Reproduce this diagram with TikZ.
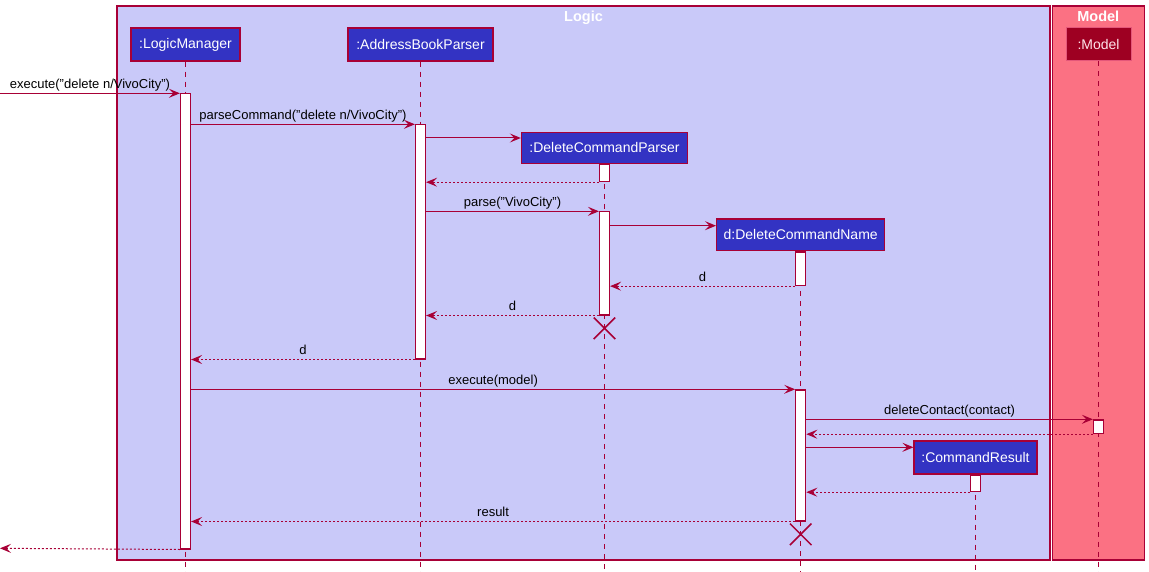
\documentclass[tikz,border=0pt]{standalone}
\usepackage{fontspec}
\setmainfont{Liberation Sans}
\usetikzlibrary{arrows.meta,shapes.misc}
\definecolor{crim}{HTML}{A80036}
\definecolor{logicbg}{HTML}{C9C9F9}
\definecolor{partfill}{HTML}{3333C3}
\definecolor{modelbg}{HTML}{FB7183}
\definecolor{modelpart}{HTML}{9E0022}
\definecolor{modelborder}{HTML}{E4577A}
\definecolor{modeltext}{HTML}{FFE4EA}
\begin{document}
\begin{tikzpicture}[x=1pt,y=-1pt,
  frame/.style={draw=crim, line width=1.2pt, inner sep=0pt},
  grouptitle/.style={text=white, font=\fontsize{14.5}{16}\selectfont\bfseries, inner sep=0pt, anchor=base},
  part/.style={draw=crim, line width=1.4pt, fill=partfill, text=white, inner sep=0pt,
    minimum height=33, font=\fontsize{14}{16}\selectfont},
  life/.style={draw=crim, line width=1pt, dash pattern=on 5pt off 5pt},
  act/.style={draw=crim, line width=1.2pt, fill=white, minimum width=10, inner sep=0pt, anchor=north},
  msg/.style={draw=crim, line width=1pt, -{Stealth[length=11pt,width=9pt,inset=4.5pt]}},
  ret/.style={msg, dash pattern=on 2pt off 2pt},
  lbl/.style={above=0.5pt, inner sep=1pt, text depth=3pt, text=black, font=\fontsize{13}{15}\selectfont},
  xmark/.style={draw=crim, line width=1.5pt, cross out, minimum size=20, inner sep=0pt}]
\useasboundingbox (0,0) rectangle (1149,572);
\fill[white] (0,0) rectangle (1149,572);
% group frames
\node[frame, fill=logicbg, minimum width=933, minimum height=554] (logic) at (583.5,283) {};
\node[frame, fill=modelbg, minimum width=92, minimum height=554] (model) at (1098.3,283) {};
\node[grouptitle] (logict) at (logic.north |- 0,22) {Logic};
\node[grouptitle] (modelt) at (model.north |- 0,22) {Model};
% participants
\node[part, minimum width=109] (lm) at (185.5,44.5) {:LogicManager};
\node[part, minimum width=144.7] (ab) at (420.5,44.5) {:AddressBookParser};
\node[part, minimum width=166, minimum height=31] (dp) at (604.5,147.8) {:DeleteCommandParser};
\node[part, minimum width=168, minimum height=31.7] (dn) at (800.7,234.8) {d:DeleteCommandName};
\node[part, minimum width=122.7] (cr) at (975.5,457.5) {:CommandResult};
\node[part, draw=modelborder, line width=1pt, fill=modelpart, text=modeltext, minimum width=65] (md) at (1098.5,44.5) {:Model};
% lifelines
\foreach \p in {lm,ab,dp,dn,cr,md} \draw[life] (\p.south) -- (\p.south |- 0,572);
% activation bars
\node[act, minimum height=455] (lm1) at (lm.south |- 0,93.3) {};
\node[act, minimum height=234] (ab1) at (ab.south |- 0,124.3) {};
\node[act, minimum height=17] (dp1) at (dp.south) {};
\node[act, minimum height=103] (dp2) at (dp.south |- 0,211.3) {};
\node[act, minimum height=33.6] (dn1) at (dn.south) {};
\node[act, minimum height=131] (dn2) at (dn.south |- 0,389.3) {};
\node[act, minimum height=13.7] (md1) at (md.south |- 0,419.3) {};
\node[act, minimum height=16.3] (cr1) at (cr.south) {};
% destroy marks
\node[xmark] (dpx) at (dp.south |- 0,328.3) {};
\node[xmark] (dnx) at (dn.south |- 0,534.3) {};
% free ends
\coordinate (in1) at (0,93.3);
\coordinate (out1) at (0,548.3);
% messages
\draw[msg] (in1) -- node[lbl] {execute("delete n/VivoCity")} (lm1.north west);
\draw[msg] (lm1.east |- 0,124.3) -- node[lbl] {parseCommand("delete n/VivoCity")} (ab1.north west);
\draw[msg] (ab1.east |- 0,138) -- (dp.west |- 0,138);
\draw[ret] (dp1.south west) -- (ab1.east |- dp1.south);
\draw[msg] (ab1.east |- 0,211.3) -- node[lbl] {parse("VivoCity")} (dp2.north west);
\draw[msg] (dp2.east |- 0,225.7) -- (dn.west |- 0,225.7);
\draw[ret] (dn1.south west) -- node[lbl] {d} (dp2.east |- dn1.south);
\draw[ret] (dp2.south west) -- node[lbl] {d} (ab1.east |- dp2.south);
\draw[ret] (ab1.south west) -- node[lbl] {d} (lm1.east |- ab1.south);
\draw[msg] (lm1.east |- 0,389.3) -- node[lbl] {execute(model)} (dn2.north west);
\draw[msg] (dn2.east |- 0,419.3) -- node[lbl] {deleteContact(contact)} (md1.north west);
\draw[ret] (md1.south west) -- (dn2.east |- md1.south);
\draw[msg] (dn2.east |- 0,447.3) -- (cr.west |- 0,447.3);
\draw[ret] (cr1.south west) -- (dn2.east |- cr1.south);
\draw[ret] (dn2.south west) -- node[lbl] {result} (lm1.east |- dn2.south);
\draw[ret] (lm1.south west) -- (out1);
\end{tikzpicture}
\end{document}
